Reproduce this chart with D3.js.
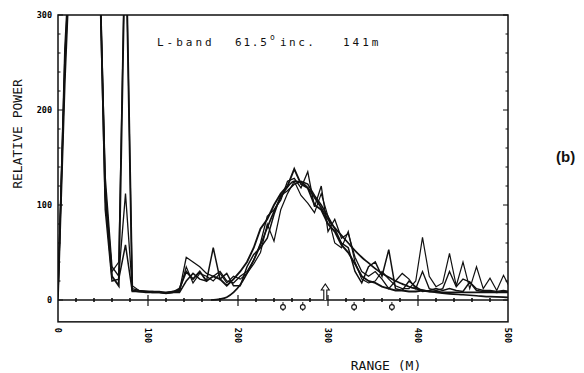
<!DOCTYPE html>
<html>
<head>
<meta charset="utf-8">
<script src="https://cdn.jsdelivr.net/npm/d3@7"></script>
<style>
  body { margin: 0; background: #fff; }
  svg { display: block; }
</style>
</head>
<body>
<div id="chart"></div>
<script>
// sample ranges (m) shared by the four measured profiles
const range = [0,7.5,15,22.5,30,37.5,45,52.5,60,67.5,75,82.5,90,97.5,105,112.5,120,127.5,135,142.5,
  150,157.5,165,172.5,180,187.5,195,202.5,210,217.5,225,232.5,240,247.5,255,262.5,270,277.5,285,292.5,
  300,307.5,315,322.5,330,337.5,345,352.5,360,367.5,375,382.5,390,397.5,405,412.5,420,427.5,435,442.5,
  450,457.5,465,472.5,480,487.5,495,502.5];

const profile1 = [5,230,400,400,400,400,400,110,25,15, 400,10,9,9,8,8,7,8,12,30,
  22,30,20,25,22,15,22,30,40,55, 75,85,100,112,120,138,122,118,100,95,
  80,72,58,50,38,25,20,18,14,12, 10,10,9,9,10,9,9,8,8,8, 8,8,8,8,8,8,8,8];
const profile2 = [3,265,400,400,400,400,400,130,35,25, 112,12,10,9,9,8,8,9,10,45,
  40,35,28,25,30,20,18,25,30,42, 60,88,95,105,125,128,118,135,98,120,
  72,85,65,70,45,30,25,30,22,12, 20,28,22,12,30,12,10,12,30,14, 22,19,12,10,10,9,10,9];
const profile3 = [8,250,400,400,400,400,400,95,20,22, 58,9,9,8,8,8,7,8,8,20,
  28,22,20,55,22,28,15,15,35,48, 55,65,90,110,115,122,125,122,110,100,
  88,75,60,55,30,18,35,40,25,53, 12,10,20,14,9,10,12,10,12,10, 9,19,10,9,9,8,9,8];
const profile4 = [0,240,400,400,400,400,400,120,30,40, 400,15,10,9,9,9,8,9,9,35,
  18,28,25,20,28,18,25,22,28,38, 50,80,62,95,112,125,110,102,92,112,
  88,60,55,72,40,22,18,20,30,22, 15,12,12,20,66,25,14,18,49,15, 40,12,35,12,23,10,26,12];

// smooth model curve
const modelRange = [170,180,187.5,195,202.5,210,217.5,225,232.5,240,247.5,255,262.5,270,277.5,285,292.5,300,307.5,315,
  322.5,330,337.5,345,352.5,360,367.5,375,382.5,390,397.5,405,412.5,420,435,450,465,480,495,502.5];
const modelValues = [0,1,3,8,16,28,42,58,76,93,108,119,125,124,118,108,97,85,76,68,
  60,52,45,39,33,28,24,20,17,14,12,10.5,9,8,6.5,5.5,4.5,3.5,3,2.5];

const markerRanges = [250, 272, 329, 371];
const arrowRange = 297;
const yTicks = [0, 100, 200, 300];
const xTicks = [0, 100, 200, 300, 400, 500];

const width = 584, height = 373;
const mono = "'DejaVu Sans Mono', 'Liberation Mono', monospace";

const x = d3.scaleLinear().domain([0, 500]).range([58, 508]);
const y = d3.scaleLinear().domain([0, 300]).range([300, 15]);
const yBottom = y(-23);

const svg = d3.select("#chart").append("svg")
    .attr("width", width)
    .attr("height", height);

svg.append("clipPath").attr("id", "plotClip")
  .append("rect")
    .attr("x", x(0)).attr("y", y(300))
    .attr("width", x(500) - x(0)).attr("height", yBottom - y(300));

// frame
svg.append("rect")
    .attr("x", x(0)).attr("y", y(300))
    .attr("width", x(500) - x(0)).attr("height", yBottom - y(300))
    .attr("fill", "none").attr("stroke", "#111").attr("stroke-width", 1.5);

// minor/major ticks on left and right edges
const yMinor = d3.range(0, 301, 20);
svg.append("g").selectAll("line.yl")
  .data(yMinor).join("line")
    .attr("x1", x(0)).attr("x2", d => x(0) + (d % 100 === 0 ? 5 : 2.5))
    .attr("y1", d => y(d)).attr("y2", d => y(d))
    .attr("stroke", "#111").attr("stroke-width", 1);
svg.append("g").selectAll("line.yr")
  .data(yMinor).join("line")
    .attr("x1", x(500)).attr("x2", d => x(500) - (d % 100 === 0 ? 5 : 2.5))
    .attr("y1", d => y(d)).attr("y2", d => y(d))
    .attr("stroke", "#111").attr("stroke-width", 1);

svg.append("g").selectAll("text")
  .data(yTicks).join("text")
    .attr("x", x(0) - 6).attr("y", d => y(d) + 3)
    .attr("text-anchor", "end")
    .style("font", `bold 8.5px ${mono}`)
    .text(d => d);

// zero line with ticks
svg.append("line")
    .attr("x1", x(0)).attr("x2", x(500))
    .attr("y1", y(0)).attr("y2", y(0))
    .attr("stroke", "#111").attr("stroke-width", 1.3);
svg.append("g").selectAll("line")
  .data(d3.range(20, 500, 20)).join("line")
    .attr("x1", d => x(d)).attr("x2", d => x(d))
    .attr("y1", d => y(0) - (d % 100 === 0 ? 5 : 2))
    .attr("y2", d => y(0) + (d % 100 === 0 ? 6 : 2))
    .attr("stroke", "#111").attr("stroke-width", d => d % 100 === 0 ? 1.2 : 1.6);

// x tick labels, rotated
svg.append("g").selectAll("text")
  .data(xTicks).join("text")
    .attr("transform", d => `translate(${x(d) - 3},${yBottom + 6}) rotate(90)`)
    .style("font", `bold 8.5px ${mono}`)
    .text(d => d);

// measured profiles
const line = d3.line()
    .x((d, i) => x(range[i]))
    .y(d => y(d));
const profiles = [profile1, profile2, profile3, profile4];
const widths = [1.9, 1.3, 1.5, 1.2];
const plot = svg.append("g").attr("clip-path", "url(#plotClip)");
plot.selectAll("path.p")
  .data(profiles).join("path")
    .attr("class", "p")
    .attr("d", line)
    .attr("fill", "none")
    .attr("stroke", "#111")
    .attr("stroke-width", (d, i) => widths[i])
    .attr("stroke-linejoin", "miter");

// model curve
plot.append("path")
    .datum(modelValues)
    .attr("d", d3.line().x((d, i) => x(modelRange[i])).y(d => y(d)).curve(d3.curveMonotoneX))
    .attr("fill", "none")
    .attr("stroke", "#111")
    .attr("stroke-width", 1.7);

// markers below the zero line
const mk = svg.append("g").selectAll("g")
  .data(markerRanges).join("g")
    .attr("transform", d => `translate(${x(d)},${y(0)})`);
mk.append("line").attr("y1", 2).attr("y2", 11)
    .attr("stroke", "#111").attr("stroke-width", 1);
mk.append("circle").attr("cy", 7).attr("r", 2.4)
    .attr("fill", "#fff").attr("stroke", "#111").attr("stroke-width", 1.1);

// arrow above the zero line
svg.append("path")
    .attr("transform", `translate(${x(arrowRange)},${y(0)})`)
    .attr("d", "M-1.5,0 L-1.5,-10 L-4,-10 L0,-16 L4,-10 L1.5,-10 L1.5,0")
    .attr("fill", "#fff").attr("stroke", "#111").attr("stroke-width", 1.1);

// title
const title = svg.append("text")
    .attr("y", 46)
    .style("font", `11px ${mono}`)
    .style("letter-spacing", "3px")
    .attr("fill", "#111");
title.append("tspan").attr("x", 157).text("L-band");
title.append("tspan").attr("x", 235).style("letter-spacing", "1.8px").text("61.5");
title.append("tspan").attr("x", 270).attr("dy", -6).style("font-size", "8px").style("letter-spacing", "0px").text("o");
title.append("tspan").attr("x", 280).attr("dy", 6).style("letter-spacing", "2.5px").text("inc.");
title.append("tspan").attr("x", 343).text("141m");

// axis titles
svg.append("text")
    .attr("transform", `translate(22,134) rotate(-90)`)
    .attr("text-anchor", "middle")
    .style("font", `13px ${mono}`)
    .attr("fill", "#111")
    .text("RELATIVE POWER");
svg.append("text")
    .attr("x", 386).attr("y", 370)
    .attr("text-anchor", "middle")
    .style("font", `13px ${mono}`)
    .attr("fill", "#111")
    .text("RANGE (M)");

svg.append("text")
    .attr("x", 556).attr("y", 162)
    .style("font", "bold 15px 'Liberation Sans', Arial, sans-serif")
    .attr("fill", "#111")
    .text("(b)");
</script>
</body>
</html>
